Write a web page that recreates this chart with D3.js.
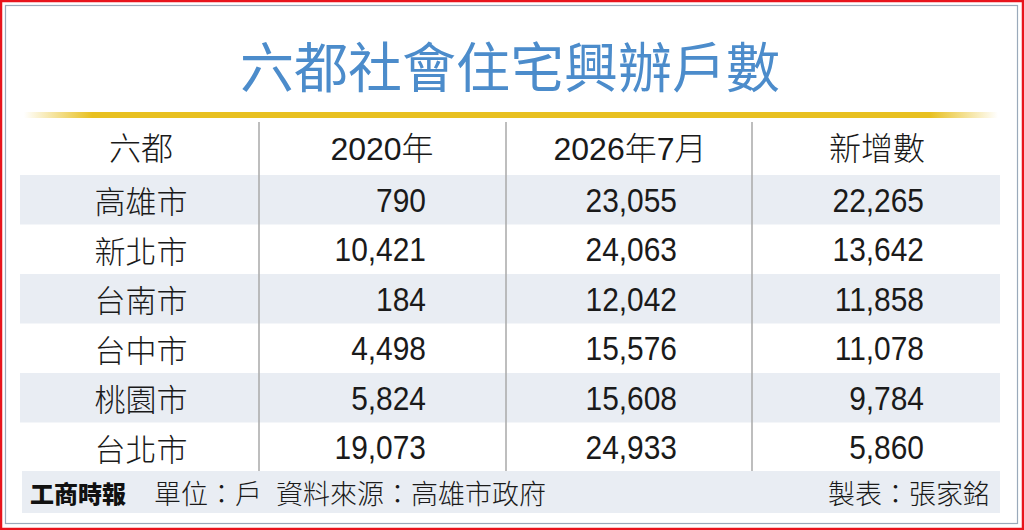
<!DOCTYPE html>
<html><head><meta charset="utf-8">
<script src="https://cdn.jsdelivr.net/npm/d3@7/dist/d3.min.js"></script>
<style>body{margin:0;background:#fff}svg{display:block}</style>
</head><body>
<script>
const title = "六都社會住宅興辦戶數";
const headers = ["六都", "2020年", "2026年7月", "新增數"];
const cities = ["高雄市", "新北市", "台南市", "台中市", "桃園市", "台北市"];
const units2020 = [790, 10421, 184, 4498, 5824, 19073];
const units2026 = [23055, 24063, 12042, 15576, 15608, 24933];
const added = [22265, 13642, 11858, 11078, 9784, 5860];
const sourceNote = "單位：戶 資料來源：高雄市政府";
const maker = "製表：張家銘";
const brand = "工商時報";

const W = 1024, H = 530;
const svg = d3.select("body").append("svg").attr("width", W).attr("height", H);
const CJK = "'Noto Sans CJK TC','Noto Sans CJK SC',sans-serif";
const NUM = "'Liberation Sans',Arial,'Noto Sans CJK TC',sans-serif";

// borders
svg.append("rect").attr("x",1).attr("y",1).attr("width",W-2).attr("height",H-2)
  .attr("fill","none").attr("stroke","#e8141c").attr("stroke-width",2.5);
svg.append("rect").attr("x",5.5).attr("y",5.5).attr("width",1012).attr("height",518)
  .attr("fill","none").attr("stroke","#9aaabb").attr("stroke-width",1.2);

// title
svg.append("text").attr("x",510).attr("y",64).attr("text-anchor","middle")
  .attr("dominant-baseline","central").attr("font-family",CJK).attr("font-size",54)
  .attr("font-weight",400).attr("fill","#4c8ccb").text(title);

// gold rule
const defs = svg.append("defs");
const g = defs.append("linearGradient").attr("id","gold").attr("x1","0").attr("x2","1");
[[0,0],[0.07,1],[0.93,1],[1,0]].forEach(([o,a])=>g.append("stop").attr("offset",o)
  .attr("stop-color","#e8c020").attr("stop-opacity",a));
svg.append("rect").attr("x",24).attr("y",112).attr("width",974).attr("height",6).attr("fill","url(#gold)");

// scales
const y = d3.scaleBand().domain(cities).range([175, 472]).paddingInner(0);
const colDiv = [259, 506, 752];

// row stripes
svg.selectAll("rect.stripe").data(cities.filter((d,i)=>i%2===0)).join("rect")
  .attr("class","stripe").attr("x",20).attr("width",980)
  .attr("y",d=>y(d)).attr("height",y.bandwidth()).attr("fill","#e9edf3");
// footer stripe
svg.append("rect").attr("x",22).attr("y",471).attr("width",978).attr("height",42).attr("fill","#e9edf3");

// dividers
svg.selectAll("line.div").data(colDiv).join("line").attr("class","div")
  .attr("x1",d=>d).attr("x2",d=>d).attr("y1",122).attr("y2",471)
  .attr("stroke","#a8a8a8").attr("stroke-width",1.5);

// header
const headX = [141, 382, 630, 877];
svg.selectAll("text.head").data(headers).join("text").attr("class","head")
  .attr("x",(d,i)=>headX[i]).attr("y",149).attr("text-anchor","middle")
  .attr("dominant-baseline","central").attr("font-family",NUM).attr("font-size",32)
  .attr("font-weight",300).attr("fill","#1a1a1a").text(d=>d);

// city names
svg.selectAll("text.city").data(cities).join("text").attr("class","city")
  .attr("x",141).attr("y",d=>y(d)+y.bandwidth()/2).attr("text-anchor","middle")
  .attr("dominant-baseline","central").attr("font-family",CJK).attr("font-size",31)
  .attr("font-weight",300).attr("fill","#1a1a1a").text(d=>d);

// numbers
const fmt = d3.format(",");
const numCols = [[units2020, 426], [units2026, 677], [added, 924]];
numCols.forEach(([vals, xr], ci) => {
  svg.selectAll("text.n"+ci).data(vals).join("text").attr("class","n"+ci)
    .attr("transform",(d,i)=>`translate(${xr},${y(cities[i])+y.bandwidth()/2+12}) scale(0.88,1)`)
    .attr("text-anchor","end").attr("font-family",NUM).attr("font-size",34)
    .attr("fill","#1a1a1a").text(d=>fmt(d));
});

// footer
svg.append("text").attr("x",30).attr("y",492).attr("dominant-baseline","central")
  .attr("font-family","'Noto Sans CJK TC',serif").attr("font-weight",900).attr("font-size",24)
  .attr("fill","#111").text(brand);
svg.append("text").attr("x",154).attr("y",492).attr("dominant-baseline","central")
  .attr("font-family",CJK).attr("font-size",27).attr("font-weight",300)
  .attr("word-spacing",8).attr("fill","#1a1a1a").text(sourceNote);
svg.append("text").attr("x",990).attr("y",492).attr("text-anchor","end").attr("dominant-baseline","central")
  .attr("font-family",CJK).attr("font-size",27).attr("font-weight",300).attr("fill","#1a1a1a").text(maker);
</script>
</body></html>
